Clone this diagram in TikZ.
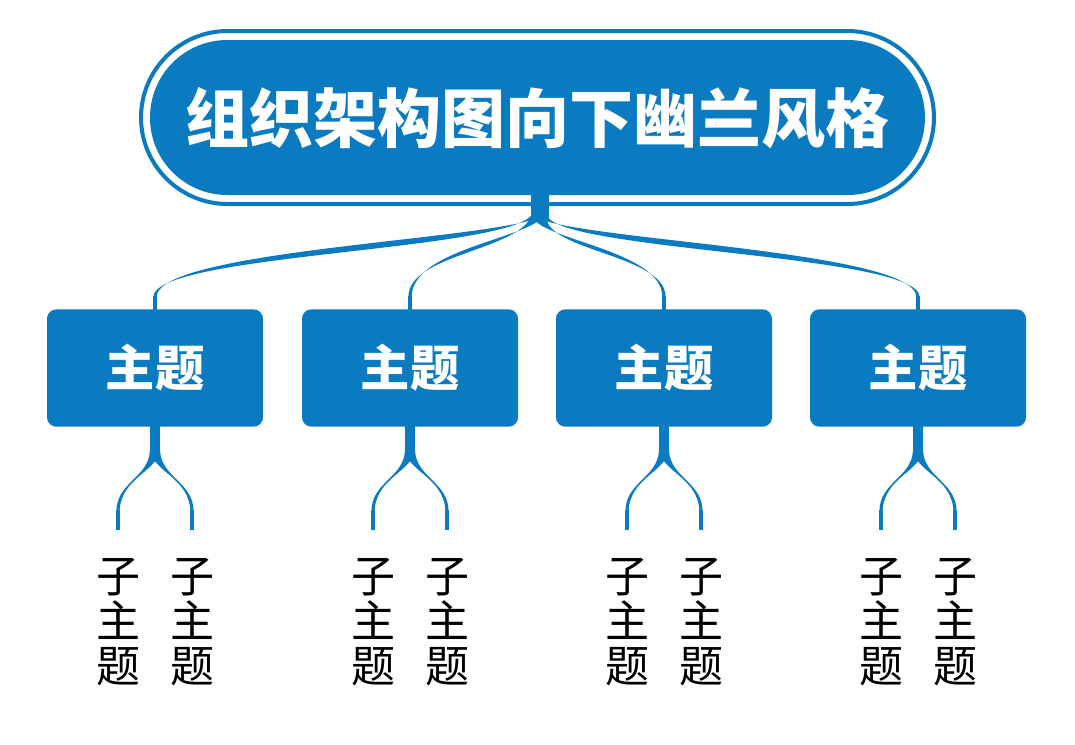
\documentclass[tikz,border=0pt]{standalone}
\usepackage{fontspec}
\setmainfont{Noto Sans CJK SC}
\newfontfamily\cjkb[BoldFont={Noto Sans CJK SC Bold}]{Noto Sans CJK SC}
\definecolor{mblue}{HTML}{0A7BC1}
\tikzset{
  topicbox/.style={fill=mblue,rounded corners=7pt,minimum width=162pt,minimum height=88pt,text=white,font=\fontsize{37}{40}\selectfont\bfseries,inner sep=0pt},
  subtxt/.style={font=\fontsize{33}{36}\selectfont,align=center,text=black,inner sep=0pt},
}
% tapered branch: S, C1, C2, E (x,y pairs), sign, w1
\newcommand\tbr[9]{%
  \fill[mblue] ({#1+#9*7},#2) .. controls ({#3+#9*6},{#4-6}) and ({#5+#9*2},{#6-3}) .. ({#7+#9*1.6},#8)
   -- ({#7-#9*1.6},#8) .. controls ({#5-#9*2},{#6+3}) and ({#3-#9*6},{#4+6}) .. ({#1-#9*7},#2) -- cycle;}
\newcommand\sbr[9]{%
  \fill[mblue] ({#1+#9*5},#2) .. controls ({#3+#9*4},{#4-3}) and ({#5+#9*2},{#6-2}) .. ({#7+#9*1.6},#8)
   -- ({#7-#9*1.6},#8) .. controls ({#5-#9*2},{#6+2}) and ({#3-#9*4},{#4+3}) .. ({#1-#9*5},#2) -- cycle;}
\begin{document}
\begin{tikzpicture}[x=0.75pt,y=-0.75pt]
\useasboundingbox (0,0) rectangle (1075,744);
% title
\draw[mblue,line width=3pt,fill=white,rounded corners=65pt] (141,31) rectangle (934,204);
\fill[mblue,rounded corners=58pt] (150,40) rectangle (925,195);
\node[text=white,font=\fontsize{48}{52}\selectfont\bfseries] (title) at (537.5,118) {组织架构图向下幽兰风格};
% trunk
\fill[mblue] (531,195) rectangle (549,218);
\foreach \i/\x in {1/155,2/410,3/664,4/918}{
  \pgfmathsetmacro\sg{\x<540 ? 1 : -1}
  \tbr{540}{212}{530}{245}{\x}{250}{\x}{297}{\sg}
  \fill[mblue] (\x-1.6,296) rectangle (\x+1.6,312);
  \node[topicbox] (t\i) at (\x,368) {主题};
  \fill[mblue] (\x-5,426) rectangle (\x+5,452);
  \sbr{\x}{450}{\x-2}{475}{\x-37}{480}{\x-37}{512}{1}
  \sbr{\x}{450}{\x+2}{475}{\x+37}{480}{\x+37}{512}{-1}
  \fill[mblue] (\x-38.6,510) rectangle (\x-35.4,530);
  \fill[mblue] (\x+35.4,510) rectangle (\x+38.6,530);
  \node[subtxt] (sa\i) at (\x-37,622) {子\\[-2pt]主\\[-2pt]题};
  \node[subtxt] (sb\i) at (\x+37,622) {子\\[-2pt]主\\[-2pt]题};
}
\end{tikzpicture}
\end{document}
